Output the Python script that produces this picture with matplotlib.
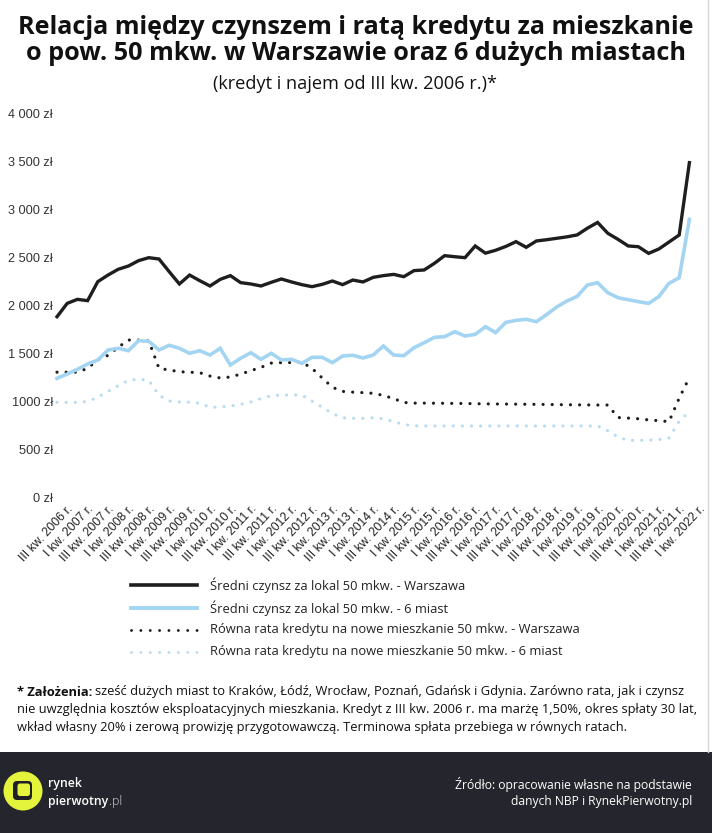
import matplotlib
matplotlib.use('Agg')
import matplotlib.pyplot as plt
from matplotlib.lines import Line2D
from matplotlib.patches import Rectangle, Circle, FancyBboxPatch
import matplotlib.transforms as mtransforms

# ---------------- data ----------------
tick_labels = [
    "III kw. 2006 r.", "I kw. 2007 r.", "III kw. 2007 r.", "I kw. 2008 r.",
    "III kw. 2008 r.", "I kw. 2009 r.", "III kw. 2009 r.", "I kw. 2010 r.",
    "III kw. 2010 r.", "I kw. 2011 r.", "III kw. 2011 r.", "I kw. 2012 r.",
    "III kw. 2012 r.", "I kw. 2013 r.", "III kw. 2013 r.", "I kw. 2014 r.",
    "III kw. 2014 r.", "I kw. 2015 r.", "III kw. 2015 r.", "I kw. 2016 r.",
    "III kw. 2016 r.", "I kw. 2017 r.", "III kw. 2017 r.", "I kw. 2018 r.",
    "III kw. 2018 r.", "I kw. 2019 r.", "III kw. 2019 r.", "I kw. 2020 r.",
    "III kw. 2020 r.", "I kw. 2021 r.", "III kw. 2021 r.", "I kw. 2022 r.",
]

czynsz_waw = [1878, 2017, 2059, 2045, 2243, 2312, 2372, 2406, 2462, 2493,
              2479, 2347, 2219, 2312, 2253, 2198, 2267, 2306, 2233, 2219,
              2198, 2236, 2271, 2240, 2212, 2191, 2215, 2250, 2212, 2260,
              2240, 2288, 2306, 2319, 2295, 2358, 2365, 2434, 2514, 2503,
              2493, 2615, 2540, 2570, 2610, 2660, 2601, 2667, 2680, 2695,
              2710, 2730, 2800, 2860, 2747, 2684, 2615, 2607, 2538, 2583,
              2656, 2729, 3483]

czynsz_6 = [1236, 1281, 1330, 1385, 1427, 1531, 1549, 1524, 1628, 1622,
            1531, 1580, 1549, 1497, 1524, 1479, 1549, 1375, 1445, 1503,
            1434, 1497, 1427, 1434, 1392, 1455, 1455, 1399, 1469, 1476,
            1448, 1479, 1573, 1479, 1472, 1555, 1607, 1663, 1670, 1722,
            1677, 1694, 1774, 1712, 1819, 1840, 1851, 1826, 1900, 1980,
            2042, 2090, 2208, 2232, 2128, 2076, 2055, 2035, 2017, 2087,
            2226, 2284, 2892]

rata_waw = [1300, 1300, 1300, 1340, 1430, 1475, 1560, 1635, 1635, 1625,
            1340, 1323, 1305, 1300, 1295, 1260, 1240, 1250, 1280, 1316,
            1350, 1395, 1400, 1400, 1405, 1340, 1240, 1143, 1100, 1092,
            1087, 1080, 1058, 1025, 985, 978, 978, 977, 976, 975,
            974, 972, 970, 969, 968, 967, 966, 965, 964, 962,
            961, 960, 959, 958, 958, 828, 822, 815, 803, 795,
            785, 1030, 1245]

rata_6 = [986, 986, 986, 995, 1040, 1100, 1160, 1215, 1228, 1215,
          1060, 1000, 990, 988, 978, 934, 936, 948, 966, 990,
          1025, 1055, 1062, 1062, 1062, 1000, 935, 870, 825, 820,
          820, 825, 815, 785, 755, 742, 740, 740, 740, 740,
          740, 740, 740, 740, 740, 740, 740, 740, 740, 740,
          740, 740, 740, 740, 690, 625, 590, 590, 592, 598,
          615, 790, 890]

y_ticks = [0, 500, 1000, 1500, 2000, 2500, 3000, 3500, 4000]
y_tick_labels = ["0 zł", "500 zł", "1000 zł", "1 500 zł", "2 000 zł",
                 "2 500 zł", "3 000 zł", "3 500 zł", "4 000 zł"]

series_names = [
    "Średni czynsz za lokal 50 mkw. - Warszawa",
    "Średni czynsz za lokal 50 mkw. - 6 miast",
    "Równa rata kredytu na nowe mieszkanie 50 mkw. - Warszawa",
    "Równa rata kredytu na nowe mieszkanie 50 mkw. - 6 miast",
]

# ---------------- figure ----------------
W, H, DPI = 712, 833, 100
plt.rcParams['font.family'] = ['Open Sans', 'DejaVu Sans']
fig = plt.figure(figsize=(W / DPI, H / DPI), dpi=DPI)
fig.patch.set_facecolor('white')


def fx(x):
    return x / W


def fy(y):
    return 1 - y / H


BLACK = '#1e1e1e'
BLUE = '#a3d5f2'
BLUE_DOT = '#b7dcef'
DOT = (0, (0.01, 2.85))

x0, x1 = 57, 689.4
y0, y1 = 497, 113
ax = fig.add_axes([fx(x0), fy(y0), (x1 - x0) / W, (y0 - y1) / H])
n = len(czynsz_waw)
xs = list(range(n))
ax.set_xlim(0, n - 1)
ax.set_ylim(0, 4000)
for s in ax.spines.values():
    s.set_visible(False)
ax.set_facecolor('none')

ax.plot(xs, rata_6, color=BLUE_DOT, lw=2.3, linestyle=DOT,
        dash_capstyle='round', clip_on=False, zorder=2)
ax.plot(xs, rata_waw, color=BLACK, lw=2.3, linestyle=DOT,
        dash_capstyle='round', clip_on=False, zorder=3)
ax.plot(xs, czynsz_6, color=BLUE, lw=2.6, clip_on=False, zorder=4,
        solid_joinstyle='miter')
ax.plot(xs, czynsz_waw, color=BLACK, lw=2.4, clip_on=False, zorder=5,
        solid_joinstyle='miter')

ax.set_yticks(y_ticks)
ax.set_yticklabels(y_tick_labels, family='Liberation Sans', fontsize=9.2,
                   color='#333333')
ax.tick_params(axis='y', length=0, pad=3)
ax.set_xticks([])

# rotated category labels
trans = mtransforms.blended_transform_factory(ax.transData, ax.transAxes)
off = mtransforms.ScaledTranslation(10 / DPI, -6 / DPI, fig.dpi_scale_trans)
for k, lab in enumerate(tick_labels):
    ax.text(2 * k, 0, lab, transform=trans + off, rotation=47, ha='right',
            va='top', rotation_mode='anchor', family='Liberation Sans',
            fontsize=8.8, color='#222222')

fig.canvas.draw()
R = fig.canvas.get_renderer()


def fit(t, width_px):
    for _ in range(4):
        bb = t.get_window_extent(renderer=R)
        t.set_fontsize(t.get_fontsize() * width_px / bb.width)


# ---------------- titles ----------------
t1 = fig.text(fx(356), fy(34), "Relacja między czynszem i ratą kredytu za mieszkanie",
              ha='center', va='baseline', fontsize=17, fontweight='bold', color='#111111')
fit(t1, 676)
t2 = fig.text(fx(356), fy(60), "o pow. 50 mkw. w Warszawie oraz 6 dużych miastach",
              ha='center', va='baseline', fontsize=t1.get_fontsize(), fontweight='bold',
              color='#111111')
t3 = fig.text(fx(355), fy(89), "(kredyt i najem od III kw. 2006 r.)*",
              ha='center', va='baseline', fontsize=12, color='#111111')
fit(t3, 284)

# ---------------- legend ----------------
rows = [585, 608, 630, 652]
LDOT = (0, (0.01, 3.2))
styles = [dict(color=BLACK, lw=2.6, linestyle='-'),
          dict(color=BLUE, lw=2.8, linestyle='-'),
          dict(color=BLACK, lw=2.1, linestyle=LDOT, dash_capstyle='round'),
          dict(color=BLUE_DOT, lw=2.1, linestyle=LDOT, dash_capstyle='round')]
leg_texts = []
for yy, name, st in zip(rows, series_names, styles):
    fig.add_artist(Line2D([fx(131), fx(197)], [fy(yy), fy(yy)],
                          transform=fig.transFigure, **st))
    leg_texts.append(fig.text(fx(210), fy(yy), name, ha='left', va='center',
                              fontsize=9.5, color='#222222'))
fit(leg_texts[2], 368)
for t in leg_texts:
    t.set_fontsize(leg_texts[2].get_fontsize())

# ---------------- footnote ----------------
fn_lines = [
    "sześć dużych miast to Kraków, Łódź, Wrocław, Poznań, Gdańsk i Gdynia. Zarówno rata, jak i czynsz",
    "nie uwzględnia kosztów eksploatacyjnych mieszkania. Kredyt z III kw. 2006 r. ma marżę 1,50%, okres spłaty 30 lat,",
    "wkład własny 20% i zerową prowizję przygotowawczą. Terminowa spłata przebiega w równych ratach.",
]
fn2 = fig.text(fx(17), fy(710), fn_lines[1], ha='left', va='center', fontsize=8.5,
               color='#111111')
fit(fn2, 678)
fs = fn2.get_fontsize()
fb = fig.text(fx(17), fy(692), "* Założenia:", ha='left', va='center', fontsize=fs,
              fontweight='bold', color='#111111')
bb = fb.get_window_extent(renderer=R)
fig.text(fx(bb.x1 + 3), fy(692), fn_lines[0], ha='left', va='center', fontsize=fs,
         color='#111111')
fig.text(fx(17), fy(727), fn_lines[2], ha='left', va='center', fontsize=fs,
         color='#111111')

# right border
fig.add_artist(Line2D([fx(707.5), fx(707.5)], [fy(0), fy(752)], transform=fig.transFigure,
                      color='#d6d6d6', lw=1))

# ---------------- footer ----------------
fig.add_artist(Rectangle((0, 0), 1, fy(752), transform=fig.transFigure,
                         facecolor='#25252d', edgecolor='none', zorder=0))
fax = fig.add_axes([0, 0, 1, fy(752)])
fax.axis('off')
fax.set_xlim(0, W)
fax.set_ylim(833, 752)
fax.add_patch(Circle((23, 791), 19.5, facecolor='#e4f43c', edgecolor='none'))
fax.add_patch(FancyBboxPatch((13, 781), 19, 19, boxstyle='round,pad=0,rounding_size=4',
                             facecolor='#1f1f24', edgecolor='none'))
fax.add_patch(FancyBboxPatch((17.5, 783.5), 12.5, 12.5, boxstyle='round,pad=0,rounding_size=2.5',
                             facecolor='#e4f43c', edgecolor='none'))
tr = fig.text(fx(48), fy(787), "rynek", ha='left', va='baseline', fontsize=11,
              color='white', fontweight='semibold')
fit(tr, 34)
tp = fig.text(fx(48), fy(805), "pierwotny", ha='left', va='baseline',
              fontsize=tr.get_fontsize(), color='white', fontweight='semibold')
bbp = tp.get_window_extent(renderer=R)
fig.text(fx(bbp.x1 + 0.5), fy(805), ".pl", ha='left', va='baseline',
         fontsize=tr.get_fontsize(), color='#d8d8d8', fontweight='light')

s1 = fig.text(fx(692), fy(784), "Źródło: opracowanie własne na podstawie", ha='right',
              va='center', fontsize=8.5, color='white')
fit(s1, 235)
fig.text(fx(692), fy(801), "danych NBP i RynekPierwotny.pl", ha='right', va='center',
         fontsize=s1.get_fontsize(), color='white')

fig.savefig('out.png', dpi=DPI, facecolor='white')
